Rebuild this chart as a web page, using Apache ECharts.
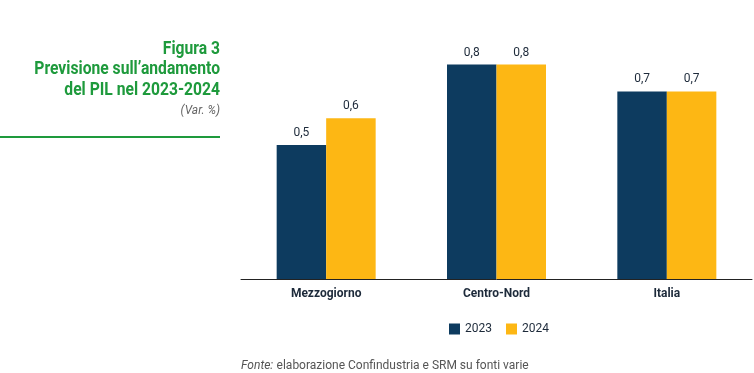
<!DOCTYPE html>
<html><head><meta charset="utf-8">
<script src="https://cdn.jsdelivr.net/npm/echarts@6/dist/echarts.min.js"></script>
<style>html,body{margin:0;padding:0;background:#fff}#c{width:754px;height:373px}</style>
</head><body><div id="c"></div>
<script>
const categories = ['Mezzogiorno', 'Centro-Nord', 'Italia'];
const values2023 = [0.5, 0.8, 0.7];
const values2024 = [0.6, 0.8, 0.7];
const seriesNames = ['2023', '2024'];

const chart = echarts.init(document.getElementById('c'));
const green = '#1e9a3c';
const fmt = p => String(p.value).replace('.', ',');
const lbl = {show: true, position: 'top', distance: 6, color: '#1d2a3a', fontFamily: 'Roboto', fontSize: 12, formatter: fmt};
const titleText = (t, y) => ({type: 'text', x: 220, y: y, scaleX: 0.87,
  style: {text: t, font: 'bold 18px Roboto', fill: green, textAlign: 'right', textVerticalAlign: 'middle'}});
chart.setOption({
  animation: false,
  textStyle: {fontFamily: 'Roboto'},
  grid: {left: 241, right: 2, top: 11, bottom: 94, containLabel: false},
  xAxis: {type: 'category', data: categories,
    axisLine: {lineStyle: {color: '#222', width: 1}}, axisTick: {show: false},
    axisLabel: {color: '#1d2a3a', fontWeight: 'bold', fontSize: 12, margin: 9, fontFamily: 'Roboto'}},
  yAxis: {type: 'value', min: 0, max: 1, show: false, splitLine: {show: false}},
  legend: {top: 318, left: 444, itemWidth: 11, itemHeight: 11, itemGap: 14, icon: 'rect',
    textStyle: {fontSize: 12, color: '#1d2a3a', fontFamily: 'Roboto'}, data: seriesNames},
  series: [
    {name: seriesNames[0], type: 'bar', data: values2023, barWidth: 49.5, barGap: '0%', itemStyle: {color: '#0d3b5f'}, label: lbl},
    {name: seriesNames[1], type: 'bar', data: values2024, barWidth: 49.5, barGap: '0%', itemStyle: {color: '#fdb714'}, label: lbl}
  ],
  graphic: [
    titleText('Figura 3', 49),
    titleText('Previsione sull\u2019andamento', 69.5),
    titleText('del PIL nel 2023-2024', 90),
    {type: 'text', x: 220, y: 111, style: {text: '(Var. %)', font: 'italic 12px Roboto', fill: '#666', textAlign: 'right', textVerticalAlign: 'middle'}},
    {type: 'rect', shape: {x: 0, y: 136, width: 220, height: 2}, style: {fill: green}},
    {type: 'text', left: 241, top: 360, style: {rich: {i: {fontStyle: 'italic', fontSize: 12, fill: '#555', fontFamily: 'Roboto'}, n: {fontSize: 12, fill: '#555', fontFamily: 'Roboto'}}, text: '{i|Fonte:} {n|elaborazione Confindustria e SRM su fonti varie}'}}
  ]
});
</script></body></html>
